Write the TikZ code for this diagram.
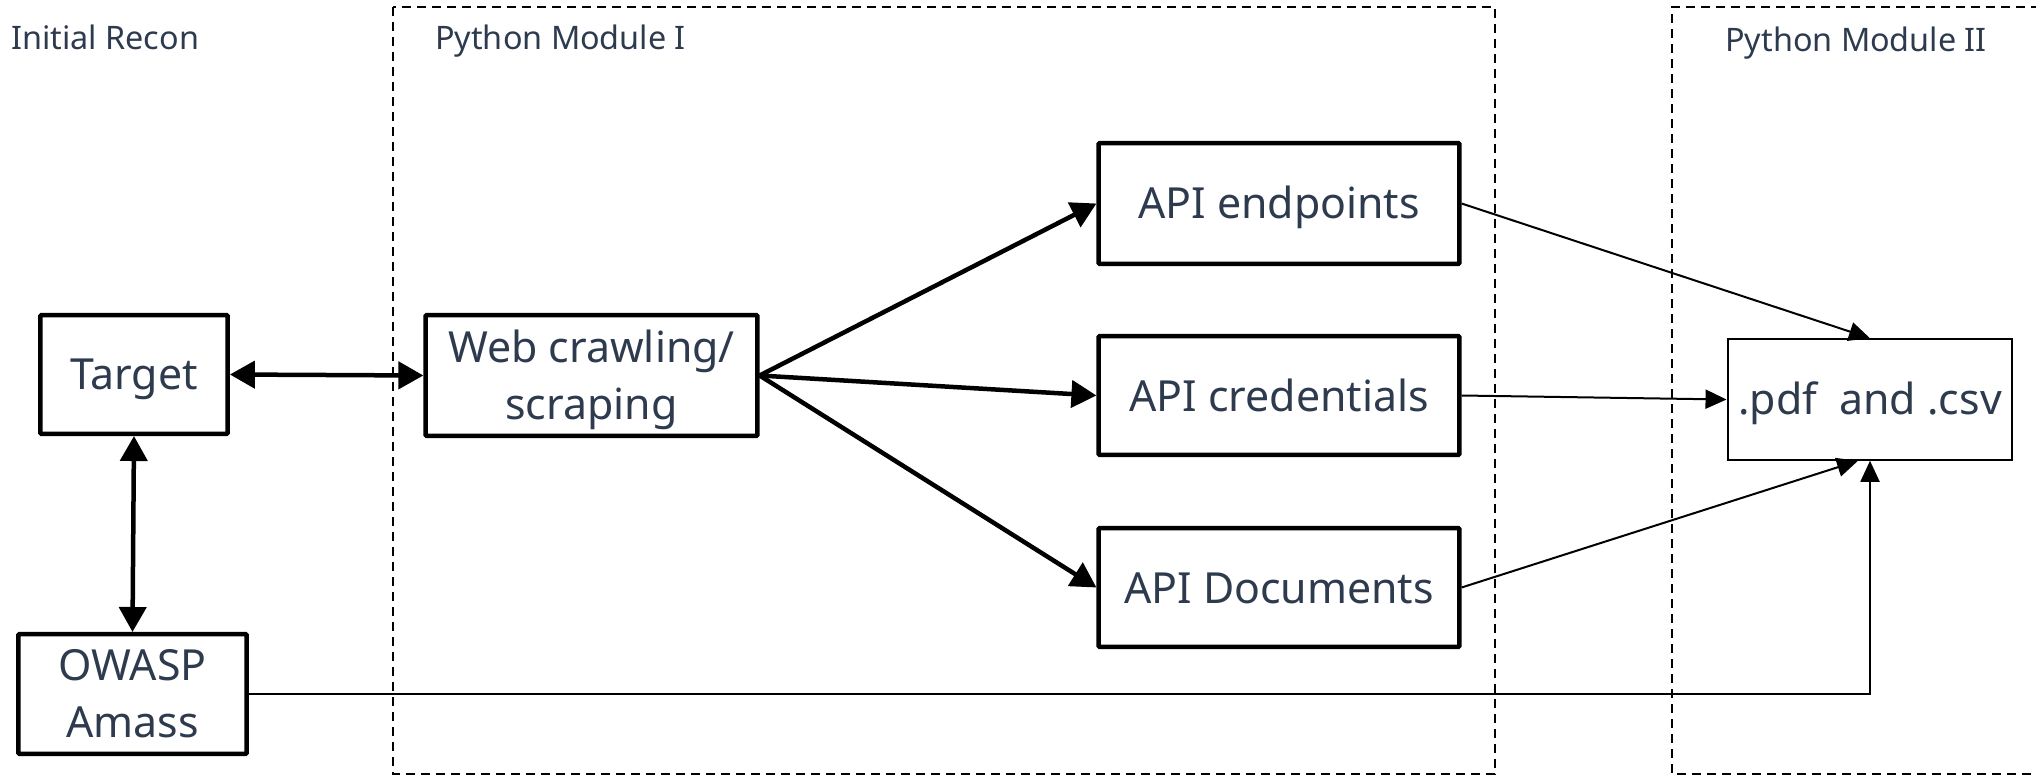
\documentclass[tikz,border=0pt]{standalone}
\usepackage{fontspec}
\setmainfont{Noto Sans}
\usetikzlibrary{arrows.meta}
\definecolor{ink}{HTML}{2E3B4E}
% fixed line boxes so every label sits at the same height in its box
\newcommand\linebox{\rule[-8bp]{0pt}{48bp}}
\newcommand\firststrut{\rule{0pt}{41bp}}
\newcommand\laststrut{\rule[-10.5bp]{0pt}{10.5bp}}
\tikzset{
  x=1bp, y=-1bp,
  boxtext/.style={inner sep=0pt, align=center, text=ink, font=\fontsize{43}{57}\selectfont},
  oneline/.style={execute at begin node=\linebox, execute at end node=\linebox},
  boxbig/.style={boxtext, draw, line width=4.5bp, rounded corners=1bp},
  boxthin/.style={boxtext, draw, line width=2bp},
  grouplabel/.style={anchor=base west, inner sep=0pt, text=ink, font=\fontsize{32.5}{40}\selectfont},
  groupframe/.style={draw, line width=2bp, dash pattern=on 9bp off 6bp},
  heavy/.style={line width=4.5bp, -{Triangle[length=25bp,width=27bp]}},
  heavyboth/.style={line width=4.5bp, {Triangle[length=25bp,width=27bp]}-{Triangle[length=25bp,width=27bp]}},
  light/.style={line width=2bp, -{Triangle[length=21bp,width=19bp]}},
}
\begin{document}
\begin{tikzpicture}
\useasboundingbox (0,0) rectangle (2036,777);

% group frames
\draw[groupframe] (393,7) rectangle (1495,774);
\draw[groupframe] (2040,7) -- (1672,7) -- (1672,774) -- (2040,774);

% group titles
\node[grouplabel] (lrecon) at (11,50) {Initial Recon};
\node[grouplabel] (lmodA) at (435,50) {Python Module I};
\node[grouplabel] (lmodB) at (1725,52) {Python Module II};

% boxes
\node[boxbig, oneline, minimum width=188, minimum height=119] (target) at (134,374.5) {Target};
\node[boxbig, minimum width=333, minimum height=121] (web) at (591.5,375.5) {\firststrut Web crawling/\\scraping\laststrut};
\node[boxbig, oneline, minimum width=362, minimum height=121] (endp) at (1279,203.5) {API endpoints};
\node[boxbig, oneline, minimum width=362, minimum height=119] (cred) at (1279,395.5) {API credentials};
\node[boxbig, oneline, minimum width=362, minimum height=119] (docs) at (1279,587.5) {API Documents};
\node[boxbig, minimum width=229, minimum height=120] (owasp) at (132.5,694) {\firststrut OWASP\\Amass\laststrut};
\node[boxthin, oneline, minimum width=286, minimum height=121] (pdf) at (1870,399.5) {.pdf\ \ and .csv};

% connectors
\draw[heavyboth] (target.east) -- (web.west);
\draw[heavyboth] (target.south) -- (owasp.north);
\draw[heavy] (web.east) -- (endp.west);
\draw[heavy] (web.east) -- (cred.west);
\draw[heavy] (web.east) -- (docs.west);
\draw[light] (endp.east) -- (pdf.north);
\draw[light] (cred.east) -- (pdf.west);
\draw[light] (docs.east) -- ([xshift=-12bp]pdf.south);
\draw[light] (owasp.east) -- (pdf.south |- owasp.east) -- (pdf.south);
\end{tikzpicture}
\end{document}
